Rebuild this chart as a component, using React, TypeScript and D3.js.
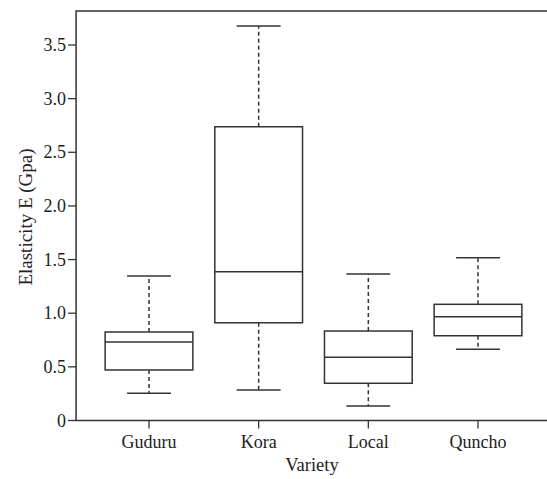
import React from "react";
import * as d3 from "d3";

const categories = ["Guduru", "Kora", "Local", "Quncho"];
const whiskerLow = [0.253, 0.284, 0.135, 0.664];
const q1 = [0.471, 0.911, 0.347, 0.79];
const median = [0.732, 1.387, 0.589, 0.967];
const q3 = [0.825, 2.738, 0.834, 1.083];
const whiskerHigh = [1.347, 3.676, 1.365, 1.517];
const yTicks = [0, 0.5, 1.0, 1.5, 2.0, 2.5, 3.0, 3.5];
const yTickLabels = ["0", "0.5", "1.0", "1.5", "2.0", "2.5", "3.0", "3.5"];

const W = 547;
const H = 479;
const FONT = "'Liberation Serif', 'DejaVu Serif', serif";
const STROKE = "#333";
const TEXT = "#222";

export default function App() {
  const x = d3.scaleLinear().domain([1, 4]).range([149, 478]);
  const y = d3.scaleLinear().domain([0, 3.5]).range([420.5, 45]);
  const left = x(0.335);
  const right = W + 2;
  const top = 11;
  const bottom = y(0);
  const boxHalf = (x(2) - x(1)) * 0.4;
  const capHalf = boxHalf / 2;

  return (
    <svg
      width={W}
      height={H}
      style={{ position: "absolute", left: 0, top: 0, background: "#fff" }}
      fontFamily={FONT}
    >
      <rect x={0} y={0} width={W} height={H} fill="#fff" />
      {/* frame (right side is cropped off in the reference) */}
      <path
        d={`M${right},${top} H${left} V${bottom} H${right}`}
        fill="none"
        stroke={STROKE}
        strokeWidth={1.5}
      />
      {/* y axis ticks */}
      {yTicks.map((t, i) => (
        <g key={"yt" + i}>
          <line x1={left - 8} x2={left} y1={y(t)} y2={y(t)} stroke={STROKE} strokeWidth={1.3} />
          <text
            x={left - 10}
            y={y(t)}
            textAnchor="end"
            dominantBaseline="central"
            fontSize={18}
            fill={TEXT}
          >
            {yTickLabels[i]}
          </text>
        </g>
      ))}
      {/* x axis ticks */}
      {categories.map((c, i) => (
        <g key={"xt" + i}>
          <line x1={x(i + 1)} x2={x(i + 1)} y1={bottom} y2={bottom + 8} stroke={STROKE} strokeWidth={1.3} />
          <text x={x(i + 1)} y={447.5} textAnchor="middle" fontSize={18} fill={TEXT}>
            {c}
          </text>
        </g>
      ))}
      {/* boxes */}
      {categories.map((c, i) => {
        const cx = x(i + 1);
        return (
          <g key={"box" + i} stroke={STROKE} strokeWidth={1.5} fill="none">
            <line x1={cx} x2={cx} y1={y(q3[i])} y2={y(whiskerHigh[i])} strokeDasharray="4,3" />
            <line x1={cx} x2={cx} y1={y(q1[i])} y2={y(whiskerLow[i])} strokeDasharray="4,3" />
            <line x1={cx - capHalf} x2={cx + capHalf} y1={y(whiskerHigh[i])} y2={y(whiskerHigh[i])} />
            <line x1={cx - capHalf} x2={cx + capHalf} y1={y(whiskerLow[i])} y2={y(whiskerLow[i])} />
            <rect
              x={cx - boxHalf}
              y={y(q3[i])}
              width={boxHalf * 2}
              height={y(q1[i]) - y(q3[i])}
              fill="#fff"
            />
            <line x1={cx - boxHalf} x2={cx + boxHalf} y1={y(median[i])} y2={y(median[i])} />
          </g>
        );
      })}
      {/* axis titles */}
      <text x={312} y={471} textAnchor="middle" fontSize={18.5} fill={TEXT}>
        Variety
      </text>
      <text
        transform={`translate(25, 217) rotate(-90)`}
        textAnchor="middle"
        dominantBaseline="central"
        fontSize={19}
        fill={TEXT}
      >
        Elasticity E (Gpa)
      </text>
    </svg>
  );
}
